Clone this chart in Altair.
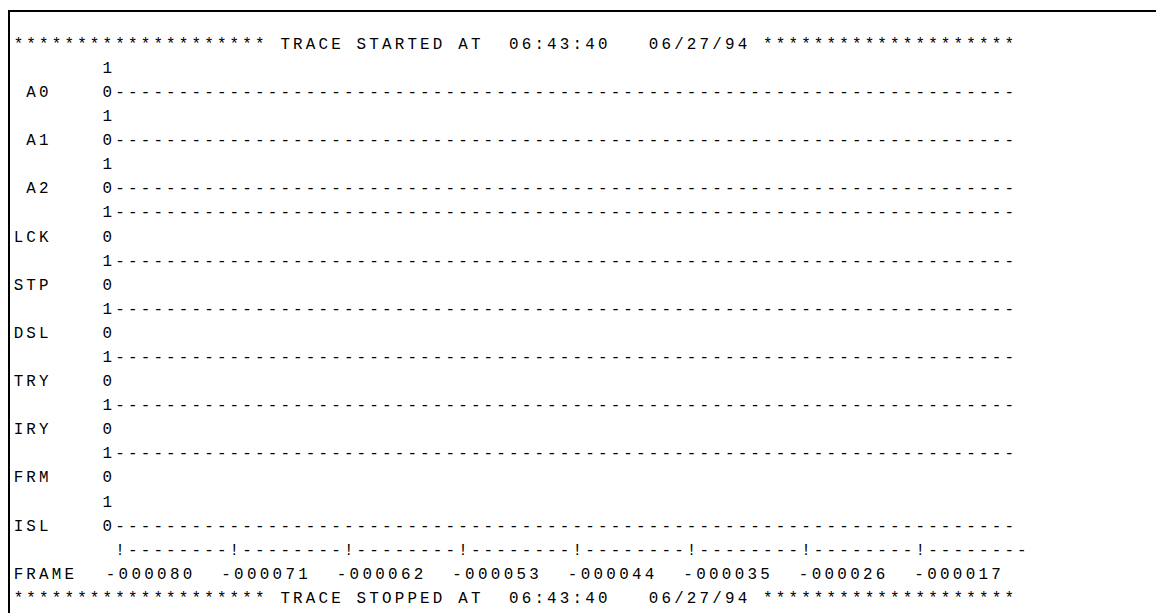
import altair as alt
import pandas as pd

# ---- data ----
signal_names = ["A0", "A1", "A2", "LCK", "STP", "DSL", "TRY", "IRY", "FRM", "ISL"]
signal_levels = [0, 0, 0, 1, 1, 1, 1, 1, 1, 0]
frame_labels = ["-000080", "-000071", "-000062", "-000053",
                "-000044", "-000035", "-000026", "-000017"]
start_text = "TRACE STARTED AT  06:43:40   06/27/94"
stop_text = "TRACE STOPPED AT  06:43:40   06/27/94"
axis_title = "FRAME"

TRACE_LEN = 71        # samples drawn after the level digit
STAR_RUN = 20


def banner(t):
    return "*" * STAR_RUN + " " + t + " " + "*" * STAR_RUN


lines = [banner(start_text)]
for name, lvl in zip(signal_names, signal_levels):
    trace = "-" * TRACE_LEN
    hi = " " * 7 + "1" + (trace if lvl == 1 else "")
    lo = name.rjust(3).ljust(7) + "0" + (trace if lvl == 0 else "")
    lines += [hi, lo]
lines.append(" " * 8 + "".join("!" + "-" * 8 for _ in frame_labels))
label_row = len(lines)
lines.append(axis_title.ljust(7) + "".join(l.ljust(9) for l in frame_labels).rstrip())
lines.append(banner(stop_text))

# the frame-number row is printed slightly wider than the grid
LABEL_STRETCH = 1.0105
LABEL_SHIFT = 0.25

rows = []
for k, line in enumerate(lines):
    for i, ch in enumerate(line):
        if ch == " ":
            continue
        col = float(i)
        if k == label_row and i >= 7:
            col = 7 + (i - 7) * LABEL_STRETCH + LABEL_SHIFT
        rows.append({"row": k, "col": col, "ch": ch})
df = pd.DataFrame(rows)

W, H = 1156, 607
CW, LH = 12.79, 24.26
X0, Y0 = 10.5, 39.0

x_scale = alt.Scale(domain=[-X0 / CW, (W - X0) / CW], nice=False, zero=False)
y_scale = alt.Scale(domain=[-Y0 / LH, (H - Y0) / LH], nice=False, zero=False, reverse=True)

text = alt.Chart(df).mark_text(
    align="center", baseline="alphabetic", font="Liberation Mono",
    fontSize=16, color="#000000"
).encode(
    x=alt.X("col:Q", scale=x_scale, axis=None),
    y=alt.Y("row:Q", scale=y_scale, axis=None),
    text="ch:N",
)

border_top = alt.Chart(df).mark_rule(color="black", strokeWidth=2).encode(
    x=alt.value(0), x2=alt.value(W), y=alt.value(1)
)
border_left = alt.Chart(df).mark_rule(color="black", strokeWidth=2).encode(
    x=alt.value(1), y=alt.value(0), y2=alt.value(H)
)

chart = alt.layer(text, border_top, border_left).properties(
    width=W, height=H, padding=0, autosize=alt.AutoSizeParams(type="none")
).configure_view(stroke=None)

chart.save("out.html", embed_options={"renderer": "svg", "actions": False})
